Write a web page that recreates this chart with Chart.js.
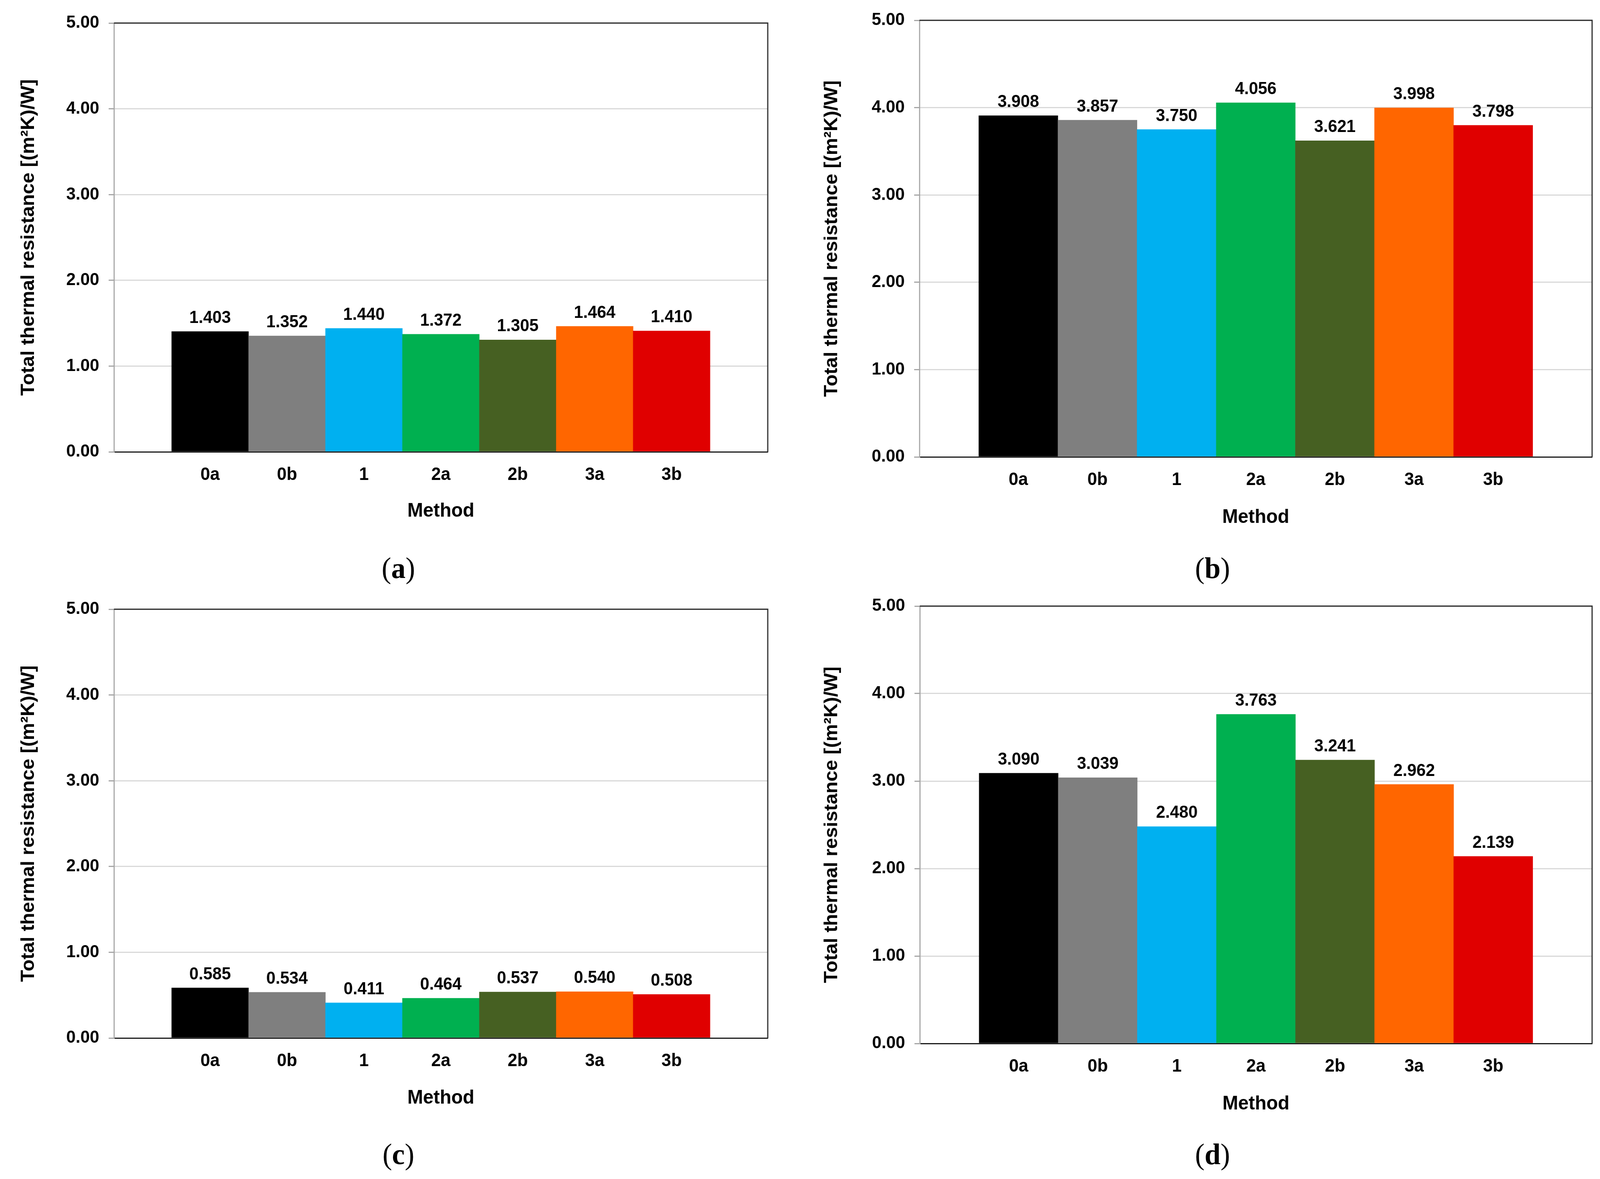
<!DOCTYPE html>
<html>
<head>
<meta charset="utf-8">
<script src="https://cdn.jsdelivr.net/npm/chart.js@4.4.1/dist/chart.umd.min.js"></script>
<style>
	html, body { margin: 0; padding: 0; background: #fff; overflow: hidden; }
	#pagina { position: absolute; left: 0; top: 0; width: 4241px; height: 3019px; transform-origin: 0 0; }
	canvas { position: absolute; }
	.legenda {
		position: absolute;
		font-family: "Liberation Serif", "Times New Roman", serif;
		font-size: 76px;
		line-height: 1;
		transform: translate(-50%, -50%);
		color: #000;
	}
</style>
</head>
<body>
<div id="pagina">
<canvas id="graficoA" width="2100" height="1400" style="left:0px;top:0px"></canvas>
<canvas id="graficoB" width="2121" height="1400" style="left:2120px;top:0px"></canvas>
<canvas id="graficoC" width="2100" height="1400" style="left:0px;top:1500px"></canvas>
<canvas id="graficoD" width="2121" height="1400" style="left:2120px;top:1500px"></canvas>
<div class="legenda" style="left:1056px;top:1454px">(<b>a</b>)</div>
<div class="legenda" style="left:3214px;top:1454px">(<b>b</b>)</div>
<div class="legenda" style="left:1056px;top:2955px">(<b>c</b>)</div>
<div class="legenda" style="left:3214px;top:2955px">(<b>d</b>)</div>
</div>
<script>
// dados
const metodos = ['0a', '0b', '1', '2a', '2b', '3a', '3b'];
const resistenciaA = [1.403, 1.352, 1.440, 1.372, 1.305, 1.464, 1.410];
const resistenciaB = [3.908, 3.857, 3.750, 4.056, 3.621, 3.998, 3.798];
const resistenciaC = [0.585, 0.534, 0.411, 0.464, 0.537, 0.540, 0.508];
const resistenciaD = [3.090, 3.039, 2.480, 3.763, 3.241, 2.962, 2.139];
const ticksY = [0, 1, 2, 3, 4, 5];
const cores = ['#000000', '#7F7F7F', '#00B0F0', '#00B050', '#466022', '#FF6600', '#E00000'];

// ajusta a página inteira à janela
const sx = window.innerWidth / 4241;
const sy = window.innerHeight / 3019;
document.getElementById('pagina').style.transform = 'scale(' + sx + ',' + sy + ')';

Chart.defaults.font.family = '"Liberation Sans", Arial, sans-serif';
Chart.defaults.color = '#000';

// valores em cima das barras
const rotulos = {
	id: 'rotulos',
	afterDatasetsDraw(chart) {
		const ctx = chart.ctx;
		const dados = chart.data.datasets[0].data;
		ctx.save();
		ctx.font = 'bold 44px "Liberation Sans", Arial, sans-serif';
		ctx.fillStyle = '#000';
		ctx.textAlign = 'center';
		ctx.textBaseline = 'alphabetic';
		chart.getDatasetMeta(0).data.forEach((barra, i) => {
			ctx.fillText(dados[i].y.toFixed(3), barra.x, barra.y - 22);
		});
		ctx.restore();
	}
};

// borda de cima e da direita
const moldura = {
	id: 'moldura',
	afterDraw(chart) {
		const {ctx, chartArea: a} = chart;
		ctx.save();
		ctx.strokeStyle = '#262626';
		ctx.lineWidth = 3;
		ctx.beginPath();
		ctx.moveTo(a.left, a.top);
		ctx.lineTo(a.right, a.top);
		ctx.lineTo(a.right, a.bottom);
		ctx.stroke();
		ctx.restore();
	}
};

function grafico(id, valores, p) {
	return new Chart(document.getElementById(id), {
		type: 'bar',
		data: {
			datasets: [{
				data: valores.map((v, i) => ({x: i, y: v})),
				backgroundColor: cores,
				borderWidth: 0,
				barPercentage: 1,
				categoryPercentage: 1
			}]
		},
		options: {
			responsive: false,
			animation: false,
			devicePixelRatio: 1,
			layout: { padding: { left: 0, top: p.topo, right: p.direita, bottom: 0 } },
			plugins: {
				legend: { display: false },
				tooltip: { enabled: false }
			},
			scales: {
				x: {
					type: 'linear',
					min: -1.25,
					max: 7.25,
					offset: false,
					afterBuildTicks: (s) => { s.ticks = metodos.map((m, i) => ({value: i})); },
					afterFit: (s) => { s.height = p.alturaX; },
					grid: { display: false, drawTicks: false },
					border: { color: '#1A1A1A', width: 3 },
					ticks: {
						callback: (v) => metodos[v],
						font: { size: 46, weight: 'bold' },
						padding: 32,
						maxRotation: 0,
						autoSkip: false
					},
					title: {
						display: true,
						text: 'Method',
						font: { size: 50, weight: 'bold' },
						padding: { top: 0, bottom: p.metodo }
					}
				},
				y: {
					min: 0,
					max: 5,
					afterBuildTicks: (s) => { s.ticks = ticksY.map((v) => ({value: v})); },
					afterFit: (s) => { s.width = p.larguraY; },
					grid: { color: '#D9D9D9', lineWidth: 3, tickLength: 14, tickColor: '#A6A6A6' },
					border: { color: '#A6A6A6', width: 3 },
					ticks: {
						callback: (v) => v.toFixed(2),
						font: { size: 45, weight: 'bold' },
						padding: 25
					},
					title: {
						display: true,
						text: 'Total thermal resistance [(m²K)/W]',
						font: { size: 50, weight: 'bold' },
						padding: { top: p.tituloY, bottom: 0 }
					}
				}
			}
		},
		plugins: [rotulos, moldura]
	});
}

grafico('graficoA', resistenciaA, {topo: 59, direita: 65, larguraY: 302, alturaX: 243, tituloY: 46, metodo: 61});
grafico('graficoB', resistenciaB, {topo: 41, direita: 21, larguraY: 317, alturaX: 230, tituloY: 55, metodo: 45});
grafico('graficoC', resistenciaC, {topo: 60, direita: 65, larguraY: 302, alturaX: 242, tituloY: 46, metodo: 58});
grafico('graficoD', resistenciaD, {topo: 43, direita: 21, larguraY: 318, alturaX: 228, tituloY: 55, metodo: 43});
</script>
</body>
</html>
